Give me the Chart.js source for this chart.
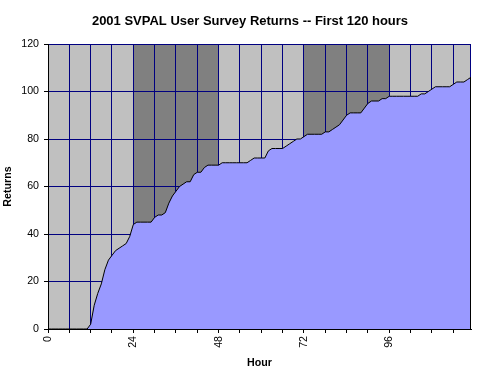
<!DOCTYPE html>
<html><head><meta charset="utf-8">
<script src="https://cdn.jsdelivr.net/npm/chart.js@4"></script>
<style>html,body{margin:0;padding:0;background:#fff}</style>
</head><body>
<canvas id="c" width="480" height="380"></canvas>
<script>
const titleText = '2001 SVPAL User Survey Returns -- First 120 hours';
const hours = [0,1,2,3,4,5,6,7,8,9,10,11,12,13,14,15,16,17,18,19,20,21,22,23,24,25,26,27,28,29,
  30,31,32,33,34,35,36,37,38,39,40,41,42,43,44,45,46,47,48,49,50,51,52,53,54,55,56,57,58,59,
  60,61,62,63,64,65,66,67,68,69,70,71,72,73,74,75,76,77,78,79,80,81,82,83,84,85,86,87,88,89,
  90,91,92,93,94,95,96,97,98,99,100,101,102,103,104,105,106,107,108,109,110,111,112,113,114,115,116,117,118,119];
const returns = [0,0,0,0,0,0,0,0,0,0,0,0,2,10,15,19,25,29,31,33,34,35,36,39,44,45,45,45,45,45,
  47,48,48,49,53,56,58,60,61,62,62,65,66,66,68,69,69,69,69,70,70,70,70,70,70,70,70,71,72,72,
  72,72,75,76,76,76,76,77,78,79,80,80,81,82,82,82,82,82,83,83,84,85,86,88,90,91,91,91,91,93,
  95,96,96,96,97,97,98,98,98,98,98,98,98,98,98,99,99,100,101,102,102,102,102,102,103,104,104,104,105,106];
const xGridHours = [0,6,12,18,24,30,36,42,48,54,60,66,72,78,84,90,96,102,108,114];
const xLabelHours = [0,24,48,72,96];
const yTickValues = [0,20,40,60,80,100,120];
const bandEdges = [0,24,48,72,96,119];
const bandColors = ['#C0C0C0','#808080','#C0C0C0','#808080','#C0C0C0'];

const fam = '"Liberation Sans", Arial, sans-serif';

const bandsPlugin = {
  id: 'bands',
  beforeDraw(chart) {
    const {ctx, chartArea: a, scales: {x}} = chart;
    ctx.save();
    for (let i = 0; i < bandColors.length; i++) {
      const x0 = x.getPixelForValue(bandEdges[i]);
      const x1 = x.getPixelForValue(bandEdges[i + 1]);
      ctx.fillStyle = bandColors[i];
      ctx.fillRect(x0, a.top, x1 - x0, a.bottom - a.top);
    }
    ctx.restore();
  },
  afterDatasetsDraw(chart) {
    const {ctx, chartArea: a, scales: {x, y}} = chart;
    const xr = Math.round(x.getPixelForValue(hours[hours.length - 1])) - 0.5;
    const yv = y.getPixelForValue(returns[returns.length - 1]);
    ctx.save();
    ctx.lineWidth = 1;
    ctx.strokeStyle = '#000080';
    ctx.beginPath(); ctx.moveTo(xr, a.top); ctx.lineTo(xr, yv); ctx.stroke();
    ctx.strokeStyle = '#000';
    ctx.beginPath(); ctx.moveTo(xr, yv); ctx.lineTo(xr, a.bottom); ctx.stroke();
    ctx.restore();
  },
  afterDraw(chart) {
    const ctx = chart.ctx;
    ctx.save();
    ctx.font = 'bold 13px ' + fam;
    ctx.fillStyle = '#000';
    ctx.textAlign = 'center';
    ctx.textBaseline = 'middle';
    ctx.fillText(titleText, chart.width / 2 + 10, 21);
    ctx.restore();
  }
};

new Chart(document.getElementById('c'), {
  type: 'line',
  data: {
    datasets: [{
      data: hours.map((h, i) => ({x: h, y: returns[i]})),
      borderColor: '#000', borderWidth: 1, backgroundColor: '#9999FF',
      fill: 'origin', pointRadius: 0, tension: 0
    }]
  },
  options: {
    responsive: false, animation: false, devicePixelRatio: 1,
    layout: {padding: {left: 0, right: 9, top: 44, bottom: 0}},
    plugins: {
      legend: {display: false}, tooltip: {enabled: false},
      title: {display: false}
    },
    scales: {
      x: {
        type: 'linear', min: 0, max: hours[hours.length - 1],
        afterBuildTicks(s) { s.ticks = xGridHours.map(v => ({value: v})); },
        afterFit(s) { s.height = 51; },
        ticks: {autoSkip: false, minRotation: 90, maxRotation: 90, padding: 3, color: '#000',
          font: {family: fam, size: 10.67},
          callback: v => xLabelHours.includes(v) ? String(v) : ''},
        grid: {color: '#000080', tickColor: '#000', tickLength: 4, lineWidth: 1},
        border: {color: '#000'},
        title: {display: true, text: 'Hour', color: '#000',
          font: {family: fam, size: 10.67, weight: 'bold', lineHeight: 1.2},
          padding: {top: 0, bottom: 11}}
      },
      y: {
        min: 0, max: 120,
        afterBuildTicks(s) { s.ticks = yTickValues.map(v => ({value: v})); },
        afterFit(s) { s.width = 48; },
        ticks: {padding: 5, color: '#000', font: {family: fam, size: 10.67}},
        grid: {color: '#000080', tickColor: '#000', tickLength: 4, lineWidth: 1},
        border: {color: '#000'},
        title: {display: true, text: 'Returns', color: '#000',
          font: {family: fam, size: 10.67, weight: 'bold', lineHeight: 1.2},
          padding: {top: 2, bottom: 0}}
      }
    }
  },
  plugins: [bandsPlugin]
});
</script>
</body></html>
